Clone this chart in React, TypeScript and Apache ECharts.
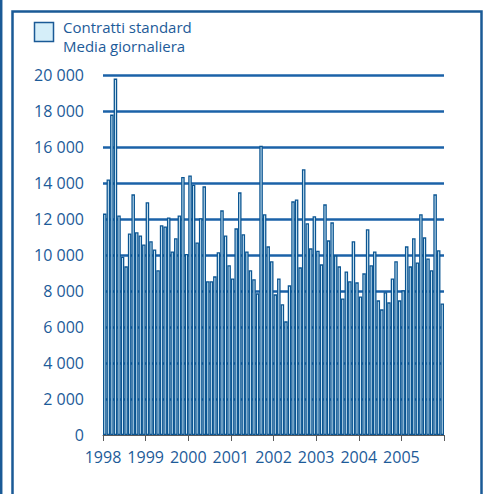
import React, { useEffect, useRef } from "react";
import * as echarts from "echarts";

const years = ["1998", "1999", "2000", "2001", "2002", "2003", "2004", "2005"];
const v1998 = [12300, 14200, 17800, 19800, 12200, 9900, 9370, 11200, 13370, 11260, 11090, 10590];
const v1999 = [12930, 10760, 10310, 9150, 11650, 11590, 12090, 10200, 10930, 12200, 14330, 10060];
const v2000 = [14420, 13900, 10700, 12040, 13815, 8540, 8540, 8815, 10150, 12480, 11090, 9430];
const v2001 = [8700, 11480, 13480, 11150, 10200, 9150, 8650, 7870, 16070, 12260, 10480, 9650];
const v2002 = [7815, 8700, 7260, 6315, 8315, 12980, 13090, 9315, 14760, 11760, 10370, 12150];
const v2003 = [10240, 9480, 12815, 10815, 11815, 9980, 9370, 7590, 9090, 8540, 10760, 8480];
const v2004 = [7700, 8980, 11430, 9430, 10200, 7480, 6980, 7930, 7370, 8700, 9650, 7480];
const v2005 = [8040, 10480, 9370, 10930, 9590, 12260, 10980, 9810, 9150, 13370, 10260, 7310];
const monthly = [...v1998, ...v1999, ...v2000, ...v2001, ...v2002, ...v2003, ...v2004, ...v2005];
const yTicks = [0, 2000, 4000, 6000, 8000, 10000, 12000, 14000, 16000, 18000, 20000];
const legendLines = ["Contratti standard", "Media giornaliera"];

const TEXT = "#1d5b99";
const DARK = "#0b5592";
const FILL = "#d8effa";

export default function App() {
  const ref = useRef<HTMLDivElement>(null);
  useEffect(() => {
    if (!ref.current) return;
    const chart = echarts.init(ref.current, undefined, { renderer: "svg" });
    const fmt = (v: number) => String(v).replace(/\B(?=(\d{3})+(?!\d))/g, " ");
    chart.setOption({
      animation: false,
      textStyle: { fontFamily: "Open Sans" },
      grid: { left: 103, right: 45, top: 75, bottom: 59 },
      xAxis: {
        type: "value",
        min: 0,
        max: years.length * 12,
        interval: 12,
        splitLine: { show: false },
        axisLine: { show: true, lineStyle: { color: "#5a5a5a", width: 1 } },
        axisTick: { show: true, length: 6, lineStyle: { color: "#5a5a5a" } },
        axisLabel: {
          color: TEXT,
          fontSize: 16,
          fontFamily: "Open Sans",
          margin: 14,
          showMaxLabel: true,
          formatter: (v: number) => (v < years.length * 12 ? years[Math.round(v / 12)] : ""),
        },
      },
      yAxis: {
        type: "value",
        min: yTicks[0],
        max: yTicks[yTicks.length - 1],
        interval: yTicks[1] - yTicks[0],
        axisLine: { show: false },
        axisTick: { show: false },
        axisLabel: {
          color: TEXT,
          fontSize: 16,
          fontFamily: "Open Sans",
          margin: 19,
          formatter: (v: number) => fmt(v),
        },
        splitLine: {
          show: true,
          lineStyle: { color: ["transparent", "#1b62a8", "#1b62a8", "#1b62a8", "#1b62a8", "#1b62a8", "#1b62a8", "#1b62a8", "#1b62a8", "#1b62a8", "#1b62a8"], width: 2.5 },
        },
      },
      series: [
        {
          type: "bar",
          name: legendLines[0],
          data: monthly.map((v, i) => [i + 0.5, v]),
          barWidth: 3.55,
          itemStyle: { color: FILL, borderColor: DARK, borderWidth: 1.3 },
        },
      ],
      graphic: [
        { type: "line", shape: { x1: 1.2, y1: 0, x2: 1.2, y2: 494 }, style: { stroke: "#1a5a96", lineWidth: 2.5 } },
        {
          type: "polyline",
          shape: { points: [[12.5, 500], [12.5, 11.5], [481.5, 11.5], [481.5, 500]] },
          style: { stroke: "#1a5a96", lineWidth: 2.5, fill: "none" },
        },
        { type: "rect", shape: { x: 34.5, y: 22.5, width: 19, height: 19 }, style: { fill: "#d5eef9", stroke: "#1a5a96", lineWidth: 1.5 } },
        {
          type: "text",
          x: 63,
          y: 18,
          style: { text: legendLines.join("\n"), fill: TEXT, fontSize: 15, lineHeight: 18.5, fontFamily: "Open Sans", verticalAlign: "top" },
        },
      ],
    });
    return () => chart.dispose();
  }, []);
  return <div ref={ref} style={{ position: "absolute", left: 0, top: 0, width: 489, height: 494, background: "#fff" }} />;
}
